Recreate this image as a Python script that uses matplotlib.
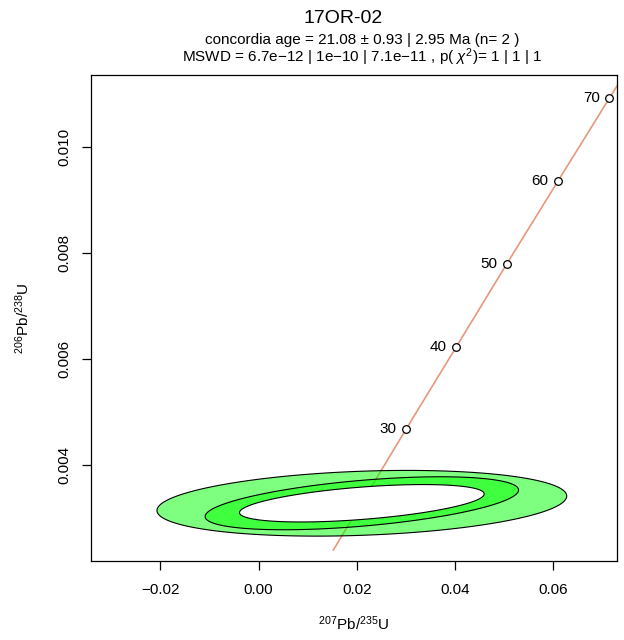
import numpy as np
import matplotlib.pyplot as plt
from matplotlib.patches import Polygon

# Helvetica 대신 Liberation Sans
plt.rcParams['font.family'] = ['Liberation Sans', 'DejaVu Sans']
plt.rcParams['mathtext.fontset'] = 'custom'
plt.rcParams['mathtext.rm'] = 'Liberation Sans'
plt.rcParams['mathtext.it'] = 'Liberation Sans:italic'
plt.rcParams['axes.unicode_minus'] = True

# 콘코디아 눈금 (Ma)
ages = [30, 40, 50, 60, 70]
age_x = [0.0300, 0.0402, 0.0505, 0.0609, 0.0714]
age_y = [0.00467, 0.00622, 0.00779, 0.00935, 0.01092]

# 콘코디아 선
conc_x = [0.0152, 0.0300, 0.0402, 0.0505, 0.0609, 0.0714, 0.0770]
conc_y = [0.00239, 0.00467, 0.00622, 0.00779, 0.00935, 0.01092, 0.01175]

# 타원: 데이터 2개 + 콘코디아 나이 타원
ell_cx = [0.02100, 0.02100, 0.02100]
ell_cy = [0.003272, 0.003272, 0.003272]
ell_hx = [0.0417, 0.0319, 0.0249]
ell_hy = [0.00062, 0.00050, 0.000353]
ell_rho = [0.22, 0.50, 0.50]
ell_fill = [(0, 1, 0, 0.5), (0, 1, 0, 0.5), 'white']

xticks = [-0.02, 0.00, 0.02, 0.04, 0.06]
yticks = [0.004, 0.006, 0.008, 0.010]

title = '17OR-02'
sub1 = 'concordia age = 21.08 ± 0.93 | 2.95 Ma (n= 2 )'
sub2 = r'MSWD = 6.7e−12 | 1e−10 | 7.1e−11 , p( $\chi^2$)= 1 | 1 | 1'

W, H = 624, 640
fig = plt.figure(figsize=(W / 100, H / 100), dpi=100)
left, right, top, bottom = 90.7, 617, 75, 560.7
ax = fig.add_axes([left / W, 1 - bottom / H, (right - left) / W, (bottom - top) / H])

ax.plot(conc_x, conc_y, color='#E9967A', lw=1.2, zorder=1)
ax.plot(age_x, age_y, 'o', ms=5.5, mfc='white', mec='black', mew=0.9, zorder=4)
for a, x, y in zip(ages, age_x, age_y):
    ax.annotate(str(a), (x, y), xytext=(-7, 0), textcoords='offset points',
                ha='right', va='center', fontsize=11, zorder=4)

t = np.linspace(0, 2 * np.pi, 300)
for i in range(3):
    ex = ell_cx[i] + ell_hx[i] * np.cos(t)
    ey = ell_cy[i] + ell_hy[i] * (ell_rho[i] * np.cos(t) + np.sqrt(1 - ell_rho[i] ** 2) * np.sin(t))
    ax.add_patch(Polygon(np.column_stack([ex, ey]), closed=True, facecolor=ell_fill[i],
                         edgecolor='black', lw=0.8, zorder=2 + (i == 2)))

ax.set_xlim(-0.03419, -0.03419 + (right - left) / 4913)
ax.set_ylim(0.002188, 0.011355)
ax.set_xticks(xticks)
ax.set_xticklabels([f'{v:.2f}'.replace('-', '−') for v in xticks])
ax.set_yticks(yticks)
ax.set_yticklabels([f'{v:.3f}' for v in yticks])
plt.setp(ax.get_yticklabels(), rotation=90, va='center')
ax.tick_params(labelsize=11, length=6.8, width=0.9)
ax.tick_params(axis='x', pad=9)
ax.tick_params(axis='y', pad=7)
for s in ax.spines.values():
    s.set_linewidth(0.9)

ax.set_xlabel('$^{207}$Pb/$^{235}$U', fontsize=11)
ax.xaxis.set_label_coords(0.5, -(624 - bottom) / (bottom - top), transform=ax.transAxes)
ax.set_ylabel('$^{206}$Pb/$^{238}$U', fontsize=11)
ax.yaxis.set_label_coords(-(left - 23) / (right - left), 0.5, transform=ax.transAxes)
ax.xaxis.label.set_va('center')
ax.yaxis.label.set_va('center')

fig.text(343 / W, 1 - 22.7 / H, title, ha='center', va='baseline', fontsize=14)
fig.text(362 / W, 1 - 44.3 / H, sub1, ha='center', va='baseline', fontsize=11)
fig.text(362 / W, 1 - 62 / H, sub2, ha='center', va='baseline', fontsize=11)

fig.savefig('out.png', dpi=100)
